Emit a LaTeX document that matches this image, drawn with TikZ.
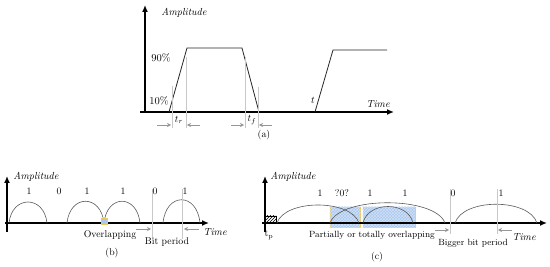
\documentclass[tikz,border=0pt]{standalone}
\usetikzlibrary{arrows.meta,patterns}
\definecolor{axisc}{RGB}{0,0,0}
\definecolor{guide}{RGB}{200,200,200}
\definecolor{dimc}{RGB}{150,150,150}
\definecolor{arcc}{RGB}{90,90,90}
\definecolor{boxfill}{RGB}{170,200,238}
\definecolor{boxedge}{RGB}{240,200,90}
\tikzset{
  x=1pt,y=-1pt,
  axis/.style={line width=1.6pt,draw=axisc,-{Latex[length=7pt,width=6pt]}},
  pulse/.style={line width=0.8pt,draw=black!85},
  guideline/.style={line width=0.6pt,draw=guide},
  dimarrow/.style={line width=0.6pt,draw=dimc,-{Stealth[length=4pt,width=4pt]}},
  arch/.style={line width=0.6pt,draw=arcc},
  lbl/.style={inner sep=0pt,font=\fontsize{9.8}{11}\selectfont},
  ilbl/.style={inner sep=0pt,font=\fontsize{10.2}{12}\selectfont\itshape},
  ovbox/.style={draw=boxedge,line width=0.6pt,fill=boxfill},
}
\begin{document}
\begin{tikzpicture}
\useasboundingbox (0,0) rectangle (550,267);
% ================= (a) =================
\coordinate (ya0) at (145,113);
\coordinate (ya1) at (145,5);
\coordinate (xa0) at (140,112);
\coordinate (xa1) at (394,112);
\draw[axis] (ya0) -- (ya1);
\draw[axis] (xa0) -- (xa1);
\coordinate (p1) at (169,112);
\coordinate (p2) at (187,48);
\coordinate (p3) at (242,48);
\coordinate (p4) at (259,112);
\coordinate (q1) at (315,112);
\coordinate (q2) at (333,50);
\coordinate (q3) at (387,50);
\draw[pulse] (p1) -- (p2) -- (p3) -- (p4);
\draw[pulse] (q1) -- (q2) -- (q3);
\coordinate (g1t) at (172,86);  \coordinate (g1b) at (172,128);
\coordinate (g2t) at (186,57);  \coordinate (g2b) at (186,128);
\coordinate (g3t) at (245,57);  \coordinate (g3b) at (245,128);
\coordinate (g4t) at (258,87);  \coordinate (g4b) at (258,128);
\draw[guideline] (g1t) -- (g1b);
\draw[guideline] (g2t) -- (g2b);
\draw[guideline] (g3t) -- (g3b);
\draw[guideline] (g4t) -- (g4b);
\coordinate (d1s) at (157,125); \coordinate (d1e) at (171,125);
\coordinate (d2s) at (200,125); \coordinate (d2e) at (187,125);
\coordinate (d3s) at (231,125); \coordinate (d3e) at (244,125);
\coordinate (d4s) at (272,125); \coordinate (d4e) at (259,125);
\draw[dimarrow] (d1s) -- (d1e);
\draw[dimarrow] (d2s) -- (d2e);
\draw[dimarrow] (d3s) -- (d3e);
\draw[dimarrow] (d4s) -- (d4e);
\node[ilbl] (aamp) at (184,13) {Amplitude};
\node[lbl,font=\fontsize{10.5}{12}\selectfont] (a90) at (161,58) {90\%};
\node[lbl,font=\fontsize{10.5}{12}\selectfont] (a10) at (159,101) {10\%};
\node[lbl] (atr) at (179,120) {$t_r$};
\node[lbl] (atf) at (252,120) {$t_f$};
\node[lbl] (at) at (313,100) {$t$};
\node[ilbl] (atime) at (378,104) {Time};
\node[lbl] (acap) at (264,135) {(a)};
% ================= (b) =================
\coordinate (yb0) at (7,232);
\coordinate (yb1) at (7,176);
\coordinate (xb0) at (5,223);
\coordinate (xb1) at (209,223);
\draw[axis] (yb0) -- (yb1);
\draw[axis] (xb0) -- (xb1);
\coordinate (b1s) at (9,223);   \coordinate (b1e) at (47,223);
\coordinate (b2s) at (67,223);  \coordinate (b2e) at (104,223);
\coordinate (b3s) at (104,223); \coordinate (b3e) at (140,223);
\coordinate (b4s) at (163,223); \coordinate (b4e) at (200,223);
\draw[arch] (b1s) .. controls +(3,-28) and +(-3,-28) .. (b1e);
\draw[arch] (b2s) .. controls +(3,-29) and +(-3,-29) .. (b2e);
\draw[arch] (b3s) .. controls +(3,-29) and +(-3,-29) .. (b3e);
\draw[arch] (b4s) .. controls +(3,-31) and +(-3,-31) .. (b4e);
\coordinate (bov) at (104,221);
\node[ovbox,line width=0.4pt,minimum size=6pt,inner sep=0pt] (bovbox) at (bov) {};
\coordinate (bg1t) at (152,189); \coordinate (bg1b) at (152,239);
\coordinate (bg2t) at (182,189); \coordinate (bg2b) at (182,239);
\draw[guideline] (bg1t) -- (bg1b);
\draw[guideline] (bg2t) -- (bg2b);
\coordinate (bd1s) at (136,229); \coordinate (bd1e) at (151,229);
\coordinate (bd2s) at (199,229); \coordinate (bd2e) at (184,229);
\draw[dimarrow] (bd1s) -- (bd1e);
\draw[dimarrow] (bd2s) -- (bd2e);
\node[lbl] (bbit1) at (29,191) {1};
\node[lbl] (bbit2) at (59,191) {0};
\node[lbl] (bbit3) at (87,191) {1};
\node[lbl] (bbit4) at (123,191) {1};
\node[lbl] (bbit5) at (155,191) {0};
\node[lbl] (bbit6) at (185,191) {1};
\node[ilbl] (bamp) at (36,177) {Amplitude};
\node[lbl] (bover) at (110,235) {Overlapping};
\node[lbl] (bbp) at (167,242) {Bit period};
\node[ilbl] (btime) at (215,232) {Time};
\node[lbl] (bcap) at (112,253) {(b)};
% ================= (c) =================
\node[ovbox,minimum width=30pt,minimum height=20pt,inner sep=0pt] (cbox1) at (345,217) {};
\node[ovbox,minimum width=52pt,minimum height=20pt,inner sep=0pt] (cbox2) at (389,217) {};
\fill[pattern=crosshatch,pattern color=white!45!boxfill] (cbox1.south west) rectangle (cbox1.north east);
\fill[pattern=crosshatch,pattern color=white!45!boxfill] (cbox2.south west) rectangle (cbox2.north east);
\coordinate (yc0) at (265,232);
\coordinate (yc1) at (265,176);
\coordinate (xc0) at (262,223);
\coordinate (xc1) at (547,223);
\draw[axis] (yc0) -- (yc1);
\draw[axis] (xc0) -- (xc1);
\coordinate (hb0) at (265,216);
\coordinate (hb1) at (276,223);
\draw[black,line width=0.6pt,pattern=north east lines] (hb0) rectangle (hb1);
\coordinate (c1s) at (277,223); \coordinate (c1e) at (359,223);
\coordinate (c2s) at (330,223); \coordinate (c2e) at (445,223);
\coordinate (c3s) at (363,223); \coordinate (c3e) at (413,223);
\coordinate (c4s) at (455,223); \coordinate (c4e) at (537,223);
\draw[arch] (c1s) .. controls +(8,-24) and +(-8,-24) .. (c1e);
\draw[arch] (c2s) .. controls +(10,-27) and +(-10,-27) .. (c2e);
\draw[arch] (c3s) .. controls +(5,-22) and +(-5,-22) .. (c3e);
\draw[arch] (c4s) .. controls +(8,-25) and +(-8,-25) .. (c4e);
\coordinate (cg1t) at (450,189); \coordinate (cg1b) at (450,234);
\coordinate (cg2t) at (497,189); \coordinate (cg2b) at (497,234);
\draw[guideline] (cg1t) -- (cg1b);
\draw[guideline] (cg2t) -- (cg2b);
\coordinate (cd1s) at (435,230); \coordinate (cd1e) at (449,230);
\coordinate (cd2s) at (512,230); \coordinate (cd2e) at (498,230);
\draw[dimarrow] (cd1s) -- (cd1e);
\draw[dimarrow] (cd2s) -- (cd2e);
\node[lbl] (cbit1) at (320,193) {1};
\node[lbl] (cbit2) at (342,193) {?0?};
\node[lbl] (cbit3) at (370,193) {1};
\node[lbl] (cbit4) at (405,193) {1};
\node[lbl] (cbit5) at (453,193) {0};
\node[lbl] (cbit6) at (501,193) {1};
\node[ilbl] (camp) at (293,177) {Amplitude};
\node[lbl] (ctp) at (269,235) {t$_{\mathrm{p}}$};
\node[lbl,font=\fontsize{9}{11}\selectfont] (cover) at (372,235) {Partially or totally overlapping};
\node[lbl,font=\fontsize{9}{11}\selectfont] (cbig) at (473,243) {Bigger bit period};
\node[ilbl] (ctime) at (524,237) {Time};
\node[lbl] (ccap) at (377,257) {(c)};
\end{tikzpicture}
\end{document}
